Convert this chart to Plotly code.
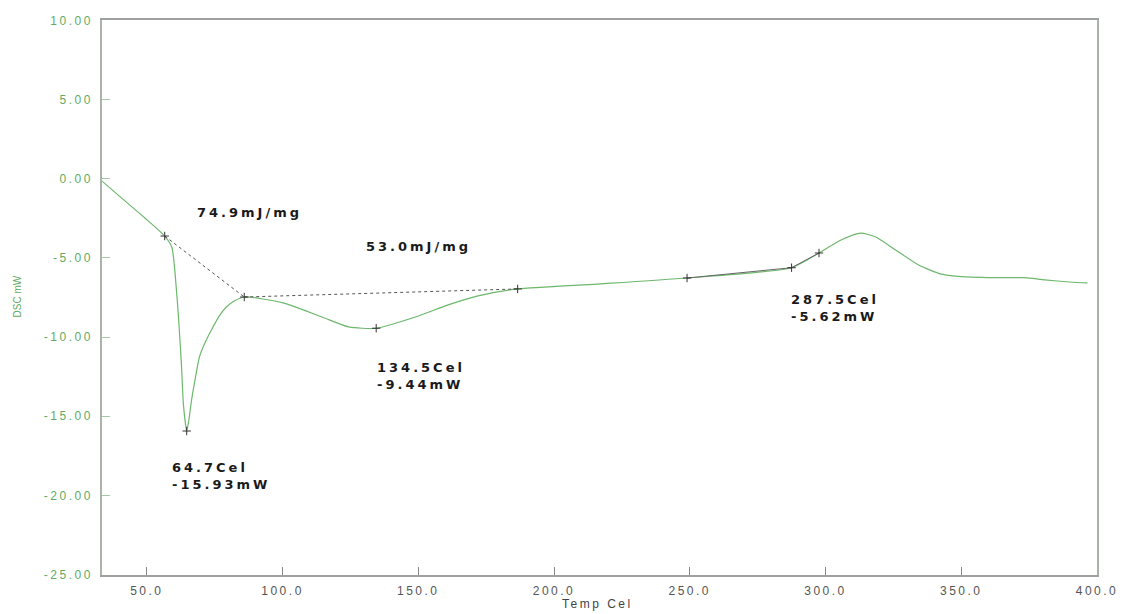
import plotly.graph_objects as go

# DSC trace: temperature (Cel) and heat flow (mW)
temp_c = [33.5, 41.2, 49.3, 56.6, 59.2, 61.0, 62.0, 62.8, 63.5, 64.7, 65.4, 66.5,
          67.9, 69.4, 71.6, 73.8, 76.7, 79.3, 82.2, 85.9, 100.2, 114.5, 124.4,
          134.5, 148.9, 161.0, 172.0, 186.6, 215.9, 249.0, 287.5, 297.6, 305.7,
          313.0, 318.5, 325.8, 334.3, 342.3, 347.8, 362.5, 373.4, 380.8, 389.9, 396.5]
dsc_mw = [-0.15, -1.29, -2.48, -3.62, -4.31, -7.21, -9.6, -11.88, -14.27, -15.93, -15.35, -13.96,
          -12.57, -11.25, -10.30, -9.55, -8.66, -8.10, -7.72, -7.47, -7.84, -8.73, -9.36,
          -9.44, -8.73, -7.97, -7.40, -6.96, -6.65, -6.27, -5.62, -4.69, -3.87,
          -3.43, -3.68, -4.50, -5.45, -6.01, -6.15, -6.25, -6.25, -6.39, -6.52, -6.58]

# Integration baselines and peak-analysis points
base1_t = [56.6, 85.9]
base1_y = [-3.62, -7.47]
base2_t = [85.9, 186.6]
base2_y = [-7.47, -6.96]
base3_t = [249.0, 287.5, 297.6]
base3_y = [-6.27, -5.62, -4.69]
mark_t = [56.6, 64.7, 85.9, 134.5, 186.6, 249.0, 287.5, 297.6]
mark_y = [-3.62, -15.93, -7.47, -9.44, -6.96, -6.27, -5.62, -4.69]

# Peak labels
peak_t = [64.7, 134.5, 287.5]
peak_y = [-15.93, -9.44, -5.62]
peak_lbl_pos = [(58.4, -18.75), (133.9, -12.45), (286.6, -8.16)]
enthalpy_lbl = ["74.9mJ/mg", "53.0mJ/mg"]
enthalpy_pos = [(67.6, -2.11), (129.9, -4.25)]

x_ticks = [50, 100, 150, 200, 250, 300, 350, 400]
y_ticks = [10, 5, 0, -5, -10, -15, -20, -25]

GREEN = "#6cb86c"
LBL_GREEN = "#62aa62"


def spaced(s, px):
    return f'<span style="letter-spacing:{px}px">{s}</span>'


fig = go.Figure()
fig.add_trace(go.Scatter(x=temp_c, y=dsc_mw, mode="lines",
                         line=dict(color=GREEN, width=1.2, shape="spline", smoothing=0.6),
                         hoverinfo="skip"))
for bt, by in [(base1_t, base1_y), (base2_t, base2_y)]:
    fig.add_trace(go.Scatter(x=bt, y=by, mode="lines",
                             line=dict(color="#555555", width=1, dash="dot"), hoverinfo="skip"))
fig.add_trace(go.Scatter(x=base3_t, y=base3_y, mode="lines",
                         line=dict(color="#666666", width=1), hoverinfo="skip"))
fig.add_trace(go.Scatter(x=mark_t, y=mark_y, mode="markers",
                         marker=dict(symbol="cross-thin", size=6,
                                     line=dict(color="#333333", width=1)),
                         hoverinfo="skip"))

label_font = dict(family="DejaVu Sans", size=13, color="#1a1a1a")
for (lx, ly), t, v in zip(peak_lbl_pos, peak_t, peak_y):
    txt = spaced(f"<b>{t:.1f}Cel</b>", 3) + "<br>" + spaced(f"<b>{v:.2f}mW</b>", 3)
    fig.add_annotation(x=lx, y=ly, text=txt, showarrow=False, xanchor="left",
                       yanchor="middle", align="left", font=label_font)
for (lx, ly), s in zip(enthalpy_pos, enthalpy_lbl):
    fig.add_annotation(x=lx, y=ly, text=spaced(f"<b>{s}</b>", 3), showarrow=False,
                       xanchor="left", yanchor="middle", font=label_font)

# Axis titles, placed in paper coordinates
fig.add_annotation(xref="paper", yref="paper", x=(17 - 102) / 1000, y=(575 - 296) / 555,
                   xanchor="center", yanchor="middle", text="DSC mW",
                   showarrow=False, textangle=-90,
                   font=dict(family="Liberation Sans", size=10, color=LBL_GREEN))
fig.add_annotation(xref="paper", yref="paper", x=(600 - 102) / 1000, y=(575 - 604) / 555,
                   xanchor="center", yanchor="middle", text=spaced("Temp Cel", 2.5),
                   showarrow=False,
                   font=dict(family="Liberation Sans", size=12, color="#444444"))

fig.update_layout(
    width=1130, height=614,
    margin=dict(l=102, r=28, t=20, b=39),
    paper_bgcolor="white", plot_bgcolor="white",
    showlegend=False,
    xaxis=dict(range=[33.5, 400], tickvals=x_ticks,
               ticktext=[spaced(f"{v:.1f}", 2.5) for v in x_ticks],
               ticks="inside", ticklen=8, tickcolor="#888888", ticklabelstandoff=4,
               showline=True, linecolor="#a0a0a0", linewidth=1.5, mirror=True,
               showgrid=False, zeroline=False,
               tickfont=dict(family="Liberation Sans", size=12, color="#555555")),
    yaxis=dict(range=[-25.02, 10.02], tickvals=y_ticks,
               ticktext=[spaced(f"{v:.2f}", 2.5) for v in y_ticks],
               ticks="inside", ticklen=8, tickcolor="#a8c8a8", ticklabelstandoff=5,
               showline=True, linecolor="#a8b4a8", linewidth=1.5, mirror=True,
               showgrid=False, zeroline=False,
               tickfont=dict(family="Liberation Sans", size=12, color=LBL_GREEN)),
)

fig.write_html("out.html", config={"displayModeBar": False})
